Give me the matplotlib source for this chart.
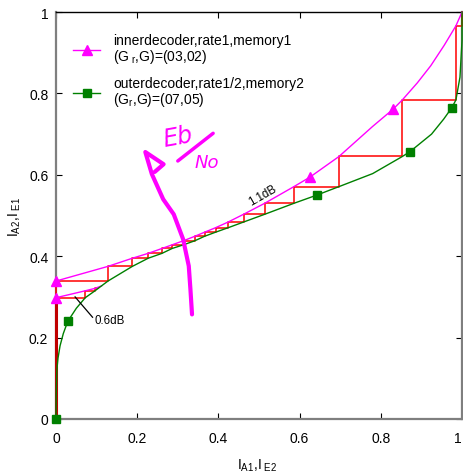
import numpy as np
import matplotlib.pyplot as plt
from matplotlib.lines import Line2D

plt.rcParams['font.family'] = ['Liberation Sans', 'DejaVu Sans']
plt.rcParams['mathtext.fontset'] = 'custom'
plt.rcParams['mathtext.rm'] = 'Liberation Sans'
plt.rcParams['mathtext.it'] = 'Liberation Sans:italic'

# courbe EXIT du decodeur interne (1.1dB), I_A1 -> I_E1
inner_x = [0, 0.128, 0.188, 0.227, 0.261, 0.286, 0.314, 0.342, 0.366, 0.393, 0.424,
           0.462, 0.514, 0.586, 0.625, 0.697, 0.78, 0.830, 0.853, 0.89, 0.923, 0.956,
           0.985, 1.0]
inner_y = [0.339, 0.375, 0.395, 0.407, 0.419, 0.428, 0.438, 0.449, 0.459, 0.470, 0.484,
           0.503, 0.530, 0.571, 0.594, 0.645, 0.719, 0.761, 0.784, 0.826, 0.868, 0.918,
           0.966, 1.0]
inner_marks = [0, 14, 17]

# courbe du decodeur interne a 0.6dB (debut seulement)
inner06_x = [0, 0.072, 0.096, 0.112]
inner06_y = [0.298, 0.315, 0.321, 0.327]

# courbe EXIT du decodeur externe (axes inverses)
outer_x = [0, 0.0005, 0.002, 0.005, 0.01, 0.018, 0.029, 0.05, 0.072, 0.096, 0.128, 0.188,
           0.227, 0.261, 0.286, 0.314, 0.342, 0.366, 0.393, 0.424, 0.462, 0.514, 0.586,
           0.642, 0.697, 0.78, 0.853, 0.872, 0.925, 0.955, 0.975, 0.985, 0.995, 1.0, 1.0]
outer_y = [0, 0.06, 0.12, 0.15, 0.18, 0.21, 0.24, 0.272, 0.298, 0.315, 0.339, 0.375,
           0.395, 0.407, 0.419, 0.428, 0.438, 0.449, 0.459, 0.470, 0.484, 0.503, 0.530,
           0.550, 0.571, 0.603, 0.645, 0.657, 0.700, 0.737, 0.765, 0.784, 0.84, 0.93, 1.0]
outer_marks = [0, 6, 23, 27, 30]

# trajectoires de decodage (paliers)
traj11_x = [0, 0.128, 0.188, 0.227, 0.261, 0.286, 0.314, 0.342, 0.366, 0.393, 0.424,
            0.462, 0.514, 0.586, 0.697, 0.853, 0.985, 1.0]
traj11_y = [0.339, 0.375, 0.395, 0.407, 0.419, 0.428, 0.438, 0.449, 0.459, 0.470, 0.484,
            0.503, 0.530, 0.571, 0.645, 0.784, 0.966, 1.0]
traj06_x = [0, 0.072, 0.096, 0.104]
traj06_y = [0.298, 0.315, 0.321, 0.323]

# fleche Eb/N0 dessinee a la main
arrow_x = [0.335, 0.331, 0.327, 0.313, 0.290, 0.264, 0.236, 0.220, 0.265, 0.243]
arrow_y = [0.257, 0.320, 0.376, 0.442, 0.503, 0.540, 0.602, 0.656, 0.626, 0.607]
slash_x = [0.300, 0.387]
slash_y = [0.634, 0.702]

ticks = [0, 0.2, 0.4, 0.6, 0.8, 1]
tick_labels = ['0', '0.2', '0.4', '0.6', '0.8', '1']


def paliers(xs, ys):
    px = np.repeat(xs, 2)[1:]
    py = np.repeat(ys, 2)[:-1]
    return np.concatenate([[xs[0]], px]), np.concatenate([[0], py])


fig = plt.figure(figsize=(4.64, 4.77), dpi=100)
ax = fig.add_axes([0.1207, 0.1195, 0.8750, 0.8532])

sx, sy = paliers(traj11_x, traj11_y)
ax.plot(sx, sy, color='#ff0000', lw=1.1, zorder=3, clip_on=False)
sx, sy = paliers(traj06_x, traj06_y)
ax.plot(sx, sy, color='#ff0000', lw=1.1, zorder=3, clip_on=False)
ax.plot([0, 0], [0, 0.298], color='#c00000', lw=2.2, zorder=3, clip_on=False)

ax.plot(inner_x, inner_y, color='#ff00ff', lw=1, marker='^', ms=7,
        markevery=inner_marks, zorder=4, clip_on=False)
ax.plot(inner06_x, inner06_y, color='#ff00ff', lw=1, marker='^', ms=7,
        markevery=[0], zorder=4, clip_on=False)
ax.plot(outer_x, outer_y, color='#008000', lw=1, marker='s', ms=6,
        markevery=outer_marks, zorder=4, clip_on=False)

# annotations des seuils
ax.plot([0.047, 0.09], [0.30, 0.25], color='black', lw=0.9, zorder=5)
ax.text(0.096, 0.243, '0.6dB', fontsize=8.3, va='center', ha='left')
ax.text(0.509, 0.55, '1.1dB', fontsize=8.3, va='center', ha='center', rotation=30)

# fleche et Eb/N0
ax.plot(arrow_x, arrow_y, color='#ff00ff', lw=3, solid_capstyle='round',
        solid_joinstyle='round', zorder=5)
ax.plot(slash_x, slash_y, color='#ff00ff', lw=2.5, solid_capstyle='round', zorder=5)
ax.text(0.301, 0.693, 'Eb', color='#ff00ff', fontsize=17, ha='center', va='center',
        rotation=10, family='DejaVu Sans', fontstyle='oblique')
ax.text(0.372, 0.631, 'No', color='#ff00ff', fontsize=13, ha='center', va='center',
        family='DejaVu Sans', fontstyle='oblique')

ax.set_xlim(0, 1)
ax.set_ylim(0, 1)
ax.set_xticks(ticks)
ax.set_xticklabels(tick_labels)
ax.set_yticks(ticks)
ax.set_yticklabels(tick_labels)
ax.tick_params(direction='in', length=4, width=0.8, labelsize=10, top=True, right=True)
ax.tick_params(axis='x', pad=9)
ax.tick_params(axis='y', pad=5.5)
ax.get_xticklabels()[-1].set_horizontalalignment('right')

for side in ['left', 'bottom', 'right']:
    ax.spines[side].set_color('#7f7f7f')
    ax.spines[side].set_linewidth(1.6)
ax.spines['top'].set_color('black')
ax.spines['top'].set_linewidth(1)

ax.set_xlabel(r'I$_{\mathrm{A1}}$,I$_{\mathrm{\ E2}}$', fontsize=10)
ax.set_ylabel(r'I$_{\mathrm{A2}}$,I$_{\mathrm{\ E1}}$', fontsize=10)
ax.xaxis.set_label_coords(0.496, -0.092)
ax.yaxis.set_label_coords(-0.082, 0.5)

handles = [
    Line2D([], [], color='#ff00ff', lw=1, marker='^', ms=7),
    Line2D([], [], color='#008000', lw=1, marker='s', ms=6),
]
labels = [
    'innerdecoder,rate1,memory1\n' + r'(G$_{\ \mathrm{r}}$,G)=(03,02)',
    'outerdecoder,rate1/2,memory2\n' + r'(G$_{\mathrm{r}}$,G)=(07,05)',
]
leg = ax.legend(handles, labels, loc='upper left', bbox_to_anchor=(0.042, 0.948),
                frameon=False, fontsize=10, borderpad=0, borderaxespad=0,
                handlelength=1.95, handletextpad=0.94, labelspacing=0.8, numpoints=1)
for t in leg.get_texts():
    t.set_linespacing(1.0)

fig.savefig('out.png', dpi=100)
